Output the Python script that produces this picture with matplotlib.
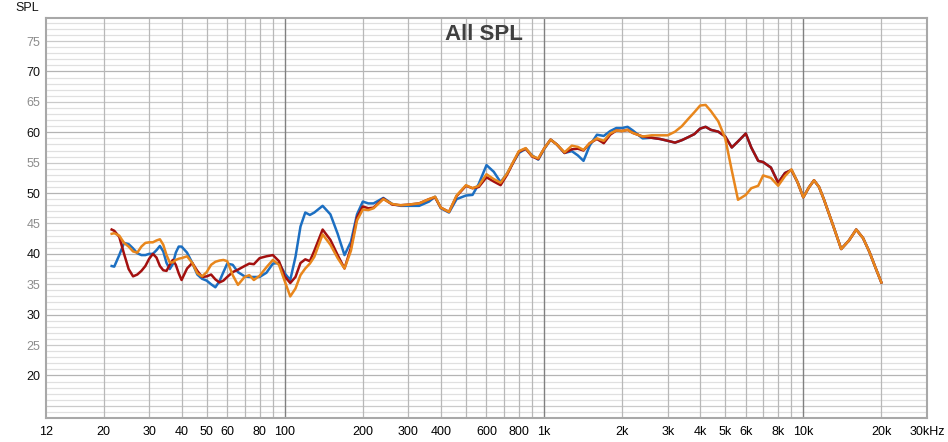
import numpy as np
import matplotlib
matplotlib.use("Agg")
import matplotlib.pyplot as plt

plt.rcParams['font.family'] = ['Liberation Sans', 'DejaVu Sans']

# frequency points (Hz) shared by all three curves
freq = [21.5, 22, 23, 24, 25, 26, 27, 28, 29, 30,
        31, 32, 33, 34, 35, 36, 37, 38, 39, 40,
        42, 44, 46, 48, 50, 52, 54, 56, 58, 60,
        63, 66, 70, 73, 76, 80, 85, 90, 95, 100,
        105, 110, 115, 120, 125, 130, 140, 150, 160, 170,
        180, 190, 200, 210, 220, 240, 260, 280, 300, 330,
        360, 380, 400, 430, 460, 500, 530, 560, 600, 640,
        680, 720, 760, 800, 850, 900, 950, 1000, 1060, 1120,
        1200, 1280, 1350, 1420, 1500, 1600, 1700, 1800, 1900, 2000,
        2100, 2200, 2400, 2600, 2800, 3000, 3200, 3400, 3600, 3800,
        4000, 4200, 4400, 4700, 5000, 5300, 5600, 6000, 6300, 6700,
        7000, 7500, 8000, 8500, 9000, 9500, 10000, 10500, 11000, 11500,
        12000, 13000, 14000, 15000, 16000, 17000, 18000, 19000, 20000]

spl_blue = [38.0, 37.9, 39.8, 41.8, 41.6, 40.9, 40.1, 39.8, 39.8, 40.0,
            40.0, 40.6, 41.3, 40.4, 38.5, 37.5, 38.3, 40.2, 41.2, 41.2,
            40.2, 38.5, 36.6, 35.9, 35.6, 35.0, 34.5, 35.5, 37.0, 38.4,
            38.2, 37.0, 36.3, 36.2, 36.2, 36.2, 36.9, 38.4, 38.5, 36.8,
            35.7, 39.5, 44.5, 46.8, 46.4, 46.8, 47.9, 46.5, 43.3, 39.8,
            42.0, 46.5, 48.6, 48.3, 48.3, 49.2, 48.2, 47.9, 47.9, 47.9,
            48.6, 49.4, 47.5, 46.8, 49.0, 49.6, 49.7, 51.5, 54.6, 53.5,
            51.8, 53.2, 55.0, 56.6, 57.3, 56.2, 55.5, 57.2, 58.8, 58.0,
            56.6, 56.9, 56.2, 55.3, 57.8, 59.6, 59.4, 60.2, 60.7, 60.7,
            60.9, 60.3, 59.0, 59.1, 58.9, 58.6, 58.3, 58.7, 59.2, 59.7,
            60.6, 60.9, 60.4, 60.1, 59.3, 57.5, 58.5, 59.8, 57.5, 55.3,
            55.1, 54.2, 51.7, 53.3, 53.8, 51.8, 49.3, 50.9, 52.1, 51.0,
            49.0, 44.8, 40.8, 42.2, 44.0, 42.6, 40.3, 37.7, 35.3]

spl_red = [44.0, 43.8, 42.8, 40.0, 37.5, 36.3, 36.6, 37.2, 38.0, 39.2,
           40.0, 39.4, 38.0, 37.3, 37.2, 38.2, 39.0, 38.2, 36.8, 35.7,
           37.6, 38.5, 37.2, 36.2, 36.3, 36.6, 35.8, 35.3, 35.6, 36.2,
           37.0, 37.4, 38.0, 38.4, 38.3, 39.3, 39.6, 39.8, 38.8, 36.3,
           35.2, 36.2, 38.5, 39.1, 38.8, 40.5, 44.0, 42.3, 39.8, 37.6,
           41.0, 46.0, 47.8, 47.5, 47.6, 49.1, 48.1, 48.0, 48.1, 48.3,
           49.0, 49.3, 47.6, 46.9, 49.5, 51.2, 50.8, 51.0, 52.6, 51.9,
           51.3, 53.0, 55.0, 56.8, 57.3, 56.0, 55.6, 57.3, 58.8, 58.0,
           56.6, 57.2, 57.3, 57.0, 58.2, 58.9, 58.2, 59.6, 60.3, 60.2,
           60.4, 59.9, 59.3, 59.1, 58.9, 58.6, 58.3, 58.7, 59.2, 59.7,
           60.6, 60.9, 60.4, 60.1, 59.3, 57.5, 58.5, 59.8, 57.5, 55.3,
           55.1, 54.2, 51.7, 53.3, 53.8, 51.8, 49.3, 50.9, 52.1, 51.0,
           49.0, 44.8, 40.8, 42.2, 44.0, 42.6, 40.3, 37.7, 35.3]

spl_orange = [43.3, 43.4, 43.0, 41.8, 41.2, 40.4, 40.2, 41.2, 41.8, 41.9,
              41.9, 42.2, 42.4, 41.5, 39.8, 38.6, 38.6, 39.0, 39.2, 39.3,
              39.6, 38.5, 36.8, 36.3, 37.0, 38.2, 38.7, 38.9, 39.0, 38.8,
              36.5, 34.9, 36.2, 36.5, 35.7, 36.4, 37.8, 39.0, 38.2, 35.5,
              33.0, 34.3, 36.5, 37.6, 38.4, 39.5, 43.2, 41.5, 39.3, 37.6,
              40.5, 45.5, 47.3, 47.2, 47.5, 49.0, 48.2, 48.0, 48.1, 48.3,
              49.0, 49.4, 47.6, 46.9, 49.6, 51.3, 50.8, 51.2, 53.1, 52.3,
              51.7, 53.2, 55.1, 56.9, 57.4, 56.1, 55.7, 57.3, 58.8, 58.0,
              56.7, 57.8, 57.6, 57.1, 58.2, 59.0, 58.6, 59.8, 60.3, 60.2,
              60.4, 59.9, 59.3, 59.5, 59.5, 59.5, 60.1, 61.0, 62.2, 63.3,
              64.4, 64.5, 63.5, 61.8, 59.0, 53.7, 48.9, 49.7, 50.8, 51.2,
              52.9, 52.5, 51.2, 52.8, 53.9, 51.8, 49.3, 50.9, 52.1, 51.0,
              49.0, 44.8, 40.8, 42.2, 44.0, 42.6, 40.3, 37.7, 35.3]

x_ticks = [12, 20, 30, 40, 50, 60, 80, 100, 200, 300, 400, 600, 800,
           1000, 2000, 3000, 4000, 5000, 6000, 8000, 10000, 20000, 30000]
x_labels = ["12", "20", "30", "40", "50", "60", "80", "100", "200", "300", "400",
            "600", "800", "1k", "2k", "3k", "4k", "5k", "6k", "8k", "10k", "20k", "30kHz"]
y_ticks = [20, 25, 30, 35, 40, 45, 50, 55, 60, 65, 70, 75]

fig = plt.figure(figsize=(9.48, 4.42), dpi=100)
ax = fig.add_axes([46/948, 1-418/442, (927-46)/948, (418-18)/442])
ax.set_xscale("log")
ax.set_xlim(12, 30000)
ax.set_ylim(13, 78.8)

# grid: 1 dB minor, 5 dB, 10 dB
for v in range(14, 79):
    if v % 10 == 0:
        c = "#b4b4b4"
    elif v % 5 == 0:
        c = "#cacaca"
    else:
        c = "#e0e0e0"
    ax.axhline(v, color=c, lw=0.9, zorder=0)
for dec in [10, 100, 1000, 10000]:
    for m in range(2, 10):
        f = dec * m
        if f < 12 or f > 20000:
            continue
        ax.axvline(f, color="#b8b8b8", lw=0.9, zorder=0)
for f in [100, 1000, 10000]:
    ax.axvline(f, color="#808080", lw=1.0, zorder=0)

ax.plot(freq, spl_blue, color="#1c6fc2", lw=1.8, zorder=3)
ax.plot(freq, spl_red, color="#a3100f", lw=1.8, zorder=4)
ax.plot(freq, spl_orange, color="#e8861c", lw=1.8, zorder=5)

ax.set_xticks(x_ticks)
ax.set_xticklabels(x_labels)
ax.xaxis.set_minor_locator(matplotlib.ticker.NullLocator())
ax.set_yticks(y_ticks)
ax.set_yticklabels([str(v) for v in y_ticks])
for lbl, v in zip(ax.get_yticklabels(), y_ticks):
    lbl.set_color("#111111" if v % 10 == 0 else "#8c8c8c")
ax.tick_params(axis="both", length=0, labelsize=9)
ax.tick_params(axis="x", pad=6)
ax.tick_params(axis="y", pad=4)

for s in ax.spines.values():
    s.set_color("#a8a8a8")
    s.set_linewidth(1.5)

fig.text(27/948, 1-8/442, "SPL", ha="center", va="center", fontsize=9, color="#111111")
fig.text(484/948, 1-34/442, "All SPL", ha="center", va="center", fontsize=16,
         fontweight="bold", color="#404040")

plt.savefig("out.png", dpi=100)
